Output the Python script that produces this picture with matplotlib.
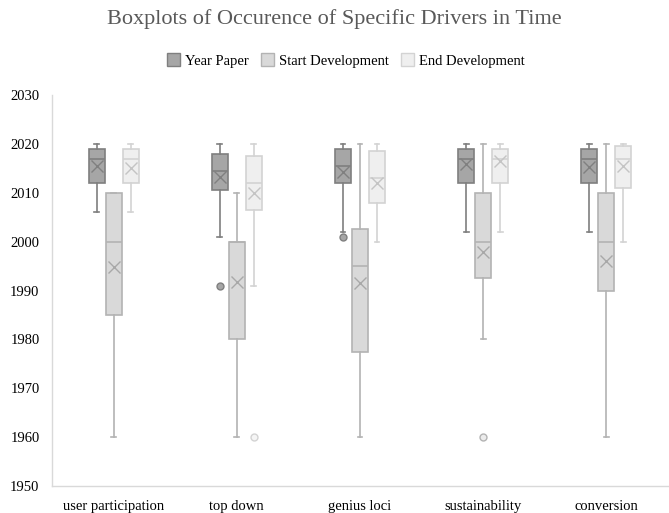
import matplotlib
matplotlib.use("Agg")
import matplotlib.pyplot as plt
from matplotlib.patches import Patch

plt.rcParams['font.family'] = ['Liberation Serif', 'DejaVu Serif']

categories = ["user participation", "top down", "genius loci", "sustainability", "conversion"]
series = ["Year Paper", "Start Development", "End Development"]

# per series: whislo, q1, med, q3, whishi, mean, fliers (per category)
yp_whislo = [2006, 2001, 2002, 2002, 2002]
yp_q1 = [2012, 2010.5, 2012, 2012, 2012]
yp_med = [2017, 2014.5, 2015.5, 2017, 2017]
yp_q3 = [2019, 2018, 2019, 2019, 2019]
yp_whishi = [2020, 2020, 2020, 2020, 2020]
yp_mean = [2015.5, 2013.3, 2014.3, 2015.8, 2015.2]
yp_fliers = [[], [1991], [2001], [], []]

sd_whislo = [1960, 1960, 1960, 1980, 1960]
sd_q1 = [1985, 1980, 1977.5, 1992.5, 1990]
sd_med = [2000, 2000, 1995, 2000, 2000]
sd_q3 = [2010, 2000, 2002.5, 2010, 2010]
sd_whishi = [2010, 2010, 2020, 2020, 2020]
sd_mean = [1994.9, 1991.7, 1991.5, 1997.8, 1996]
sd_fliers = [[], [], [], [1960], []]

ed_whislo = [2006, 1991, 2000, 2002, 2000]
ed_q1 = [2012, 2006.5, 2008, 2012, 2011]
ed_med = [2017, 2012, 2013, 2017, 2017]
ed_q3 = [2019, 2017.5, 2018.5, 2019, 2019.5]
ed_whishi = [2020, 2020, 2020, 2020, 2020]
ed_mean = [2015, 2010, 2012, 2016.5, 2015.5]
ed_fliers = [[], [1960], [], [], []]

stats_all = [
    (yp_whislo, yp_q1, yp_med, yp_q3, yp_whishi, yp_mean, yp_fliers),
    (sd_whislo, sd_q1, sd_med, sd_q3, sd_whishi, sd_mean, sd_fliers),
    (ed_whislo, ed_q1, ed_med, ed_q3, ed_whishi, ed_mean, ed_fliers),
]

fills = ["#a6a6a6", "#d9d9d9", "#efefef"]
edges = ["#7f7f7f", "#b3b3b3", "#d3d3d3"]
mean_cols = ["#808080", "#a8a8a8", "#c4c4c4"]
flier_fills = ["#a6a6a6", "#ececec", "#f5f5f5"]

fig = plt.figure(figsize=(6.69, 5.13), dpi=100)
ax = fig.add_axes([0.0777, 0.0526, 0.9208, 0.7622])

offsets = [-0.138, 0.0, 0.138]
width = 0.13
for s, (wl, q1, md, q3, wh, mn, fl) in enumerate(stats_all):
    bstats = []
    for i in range(len(categories)):
        bstats.append(dict(whislo=wl[i], q1=q1[i], med=md[i], q3=q3[i], whishi=wh[i],
                           mean=mn[i], fliers=fl[i]))
    pos = [i + offsets[s] for i in range(len(categories))]
    ax.bxp(bstats, positions=pos, widths=width, patch_artist=True, showmeans=True,
           boxprops=dict(facecolor=fills[s], edgecolor=edges[s], linewidth=1.2),
           medianprops=dict(color=edges[s], linewidth=1.2),
           whiskerprops=dict(color=edges[s], linewidth=1.2),
           capprops=dict(color=edges[s], linewidth=1.2),
           capwidths=0.04,
           meanprops=dict(marker='x', markersize=9, markeredgecolor=mean_cols[s],
                          markeredgewidth=1.0, linestyle='none'),
           flierprops=dict(marker='o', markersize=5, markerfacecolor=flier_fills[s],
                           markeredgecolor=edges[s], linestyle='none'))

ax.set_xlim(-0.5, len(categories) - 0.5)
ax.set_ylim(1950, 2030)
ax.set_yticks(range(1950, 2031, 10))
ax.set_xticks(range(len(categories)))
ax.set_xticklabels(categories)
ax.tick_params(axis='both', length=0, labelsize=10.5, colors='#000000')
ax.tick_params(axis='y', pad=9)
ax.tick_params(axis='x', pad=10)
for sp in ['top', 'right']:
    ax.spines[sp].set_visible(False)
for sp in ['left', 'bottom']:
    ax.spines[sp].set_color('#d9d9d9')
    ax.spines[sp].set_linewidth(1.0)

fig.suptitle("Boxplots of Occurence of Specific Drivers in Time", fontsize=16,
             color='#595959', y=0.983)
handles = [Patch(facecolor=fills[s], edgecolor=edges[s], label=series[s]) for s in range(3)]
fig.legend(handles=handles, loc='center', bbox_to_anchor=(0.517, 0.882), ncol=3, frameon=False,
           fontsize=10.5, handlelength=0.9, handleheight=0.9, handletextpad=0.35,
           columnspacing=0.8)

fig.savefig("out.png", dpi=100)
